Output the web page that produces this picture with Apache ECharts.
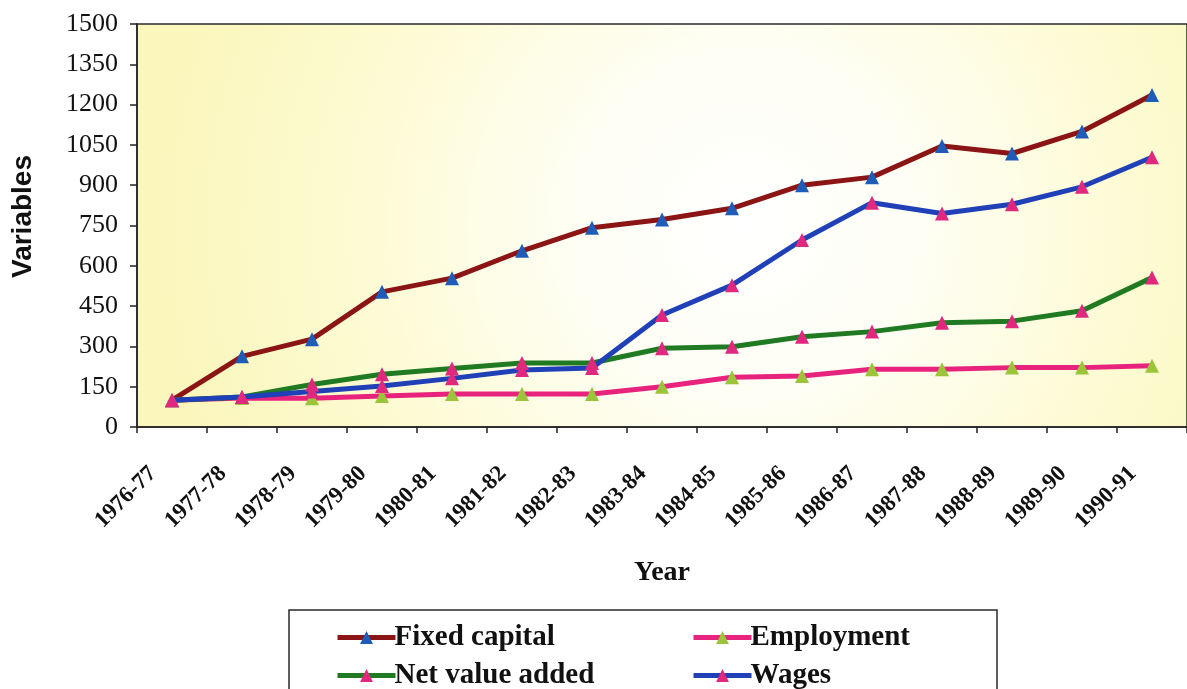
<!DOCTYPE html>
<html>
<head>
<meta charset="utf-8">
<script src="https://cdn.jsdelivr.net/npm/echarts@6/dist/echarts.min.js"></script>
<style>
html,body{margin:0;padding:0;background:#ffffff;}
#chart{width:1187px;height:689px;}
</style>
</head>
<body>
<div id="chart"></div>
<script>
const categories = ['1976-77','1977-78','1978-79','1979-80','1980-81','1981-82','1982-83','1983-84','1984-85','1985-86','1986-87','1987-88','1988-89','1989-90','1990-91'];
const fixedCapital = [100, 263, 327, 503, 554, 656, 742, 772, 814, 900, 930, 1046, 1018, 1100, 1236];
const employment = [100, 108, 107, 115, 123, 123, 123, 150, 185, 190, 215, 215, 221, 221, 228];
const netValueAdded = [100, 112, 158, 196, 218, 238, 238, 293, 299, 336, 355, 388, 394, 433, 556];
const wages = [100, 112, 132, 153, 181, 212, 220, 417, 528, 696, 835, 795, 829, 894, 1004];
const yTicks = [0, 150, 300, 450, 600, 750, 900, 1050, 1200, 1350, 1500];

const serif = "'Liberation Serif', 'Times New Roman', serif";
const sans = "'Liberation Sans', Arial, sans-serif";

function mkSeries(name, data, lineColor, markColor) {
  return {
    name: name,
    type: 'line',
    data: data,
    symbol: 'triangle',
    symbolSize: 14,
    showAllSymbol: true,
    lineStyle: { color: lineColor, width: 5 },
    itemStyle: { color: markColor, borderWidth: 0 },
    emphasis: { disabled: true },
    animation: false
  };
}

function mkLegend(name, left, top) {
  return {
    orient: 'horizontal', left: left, top: top,
    itemWidth: 58, itemHeight: 16, itemGap: 0,
    data: [name],
    lineStyle: { width: 5 },
    textStyle: { fontFamily: serif, fontWeight: 'bold', fontSize: 29, color: '#111', padding: [0, 0, 0, -6] },
    selectedMode: false
  };
}

const chart = echarts.init(document.getElementById('chart'), null, { renderer: 'canvas' });
chart.setOption({
  backgroundColor: '#ffffff',
  animation: false,
  grid: {
    left: 137, top: 24, width: 1061, height: 403,
    show: true,
    borderColor: '#2a2a2a',
    borderWidth: 1.5,
    backgroundColor: {
      type: 'radial', x: 0.58, y: 0.5, r: 1.45,
      colorStops: [
        { offset: 0, color: '#ffffff' },
        { offset: 0.3, color: '#fefef4' },
        { offset: 0.65, color: '#fdfbd4' },
        { offset: 1, color: '#fbf6bc' }
      ]
    }
  },
  xAxis: {
    type: 'category',
    data: categories,
    boundaryGap: true,
    name: 'Year',
    nameLocation: 'middle',
    nameGap: 132,
    nameTextStyle: { fontFamily: serif, fontWeight: 'bold', fontSize: 28, color: '#111' },
    axisLine: { show: true, lineStyle: { color: '#222', width: 1.5 } },
    axisTick: { show: true, length: 6, lineStyle: { color: '#222', width: 1.5 } },
    axisLabel: {
      rotate: 45, interval: 0, margin: 24,
      padding: [0, 27, 0, 0],
      fontFamily: serif, fontWeight: 'bold', fontSize: 23, color: '#111'
    },
    splitLine: { show: false }
  },
  yAxis: {
    type: 'value',
    min: yTicks[0], max: yTicks[yTicks.length - 1], interval: 150,
    name: 'Variables',
    nameLocation: 'middle',
    nameGap: 100,
    nameRotate: 90,
    nameTextStyle: { fontFamily: sans, fontWeight: 'bold', fontSize: 28, color: '#111', padding: [0, 0, 0, 18] },
    axisLine: { show: true, lineStyle: { color: '#222', width: 1.5 } },
    axisTick: { show: true, length: 7, lineStyle: { color: '#222', width: 1.5 } },
    axisLabel: { margin: 19, fontFamily: serif, fontSize: 26, color: '#111', formatter: function (v) { return String(v); } },
    splitLine: { show: false }
  },
  legend: [
    mkLegend('Fixed capital', 330, 618),
    mkLegend('Employment', 686, 618),
    mkLegend('Net value added', 330, 656),
    mkLegend('Wages', 686, 656)
  ],
  graphic: [
    {
      type: 'rect', z: -1,
      shape: { x: 289, y: 610, width: 708, height: 110 },
      style: { fill: '#ffffff', stroke: '#2a2a2a', lineWidth: 1.5 }
    }
  ],
  series: [
    mkSeries('Fixed capital', fixedCapital, '#8b1414', '#1e5cb8'),
    mkSeries('Employment', employment, '#e8237d', '#9cc43a'),
    mkSeries('Net value added', netValueAdded, '#1f7a22', '#e0287e'),
    mkSeries('Wages', wages, '#2040b8', '#e0287e')
  ]
});
</script>
</body>
</html>
